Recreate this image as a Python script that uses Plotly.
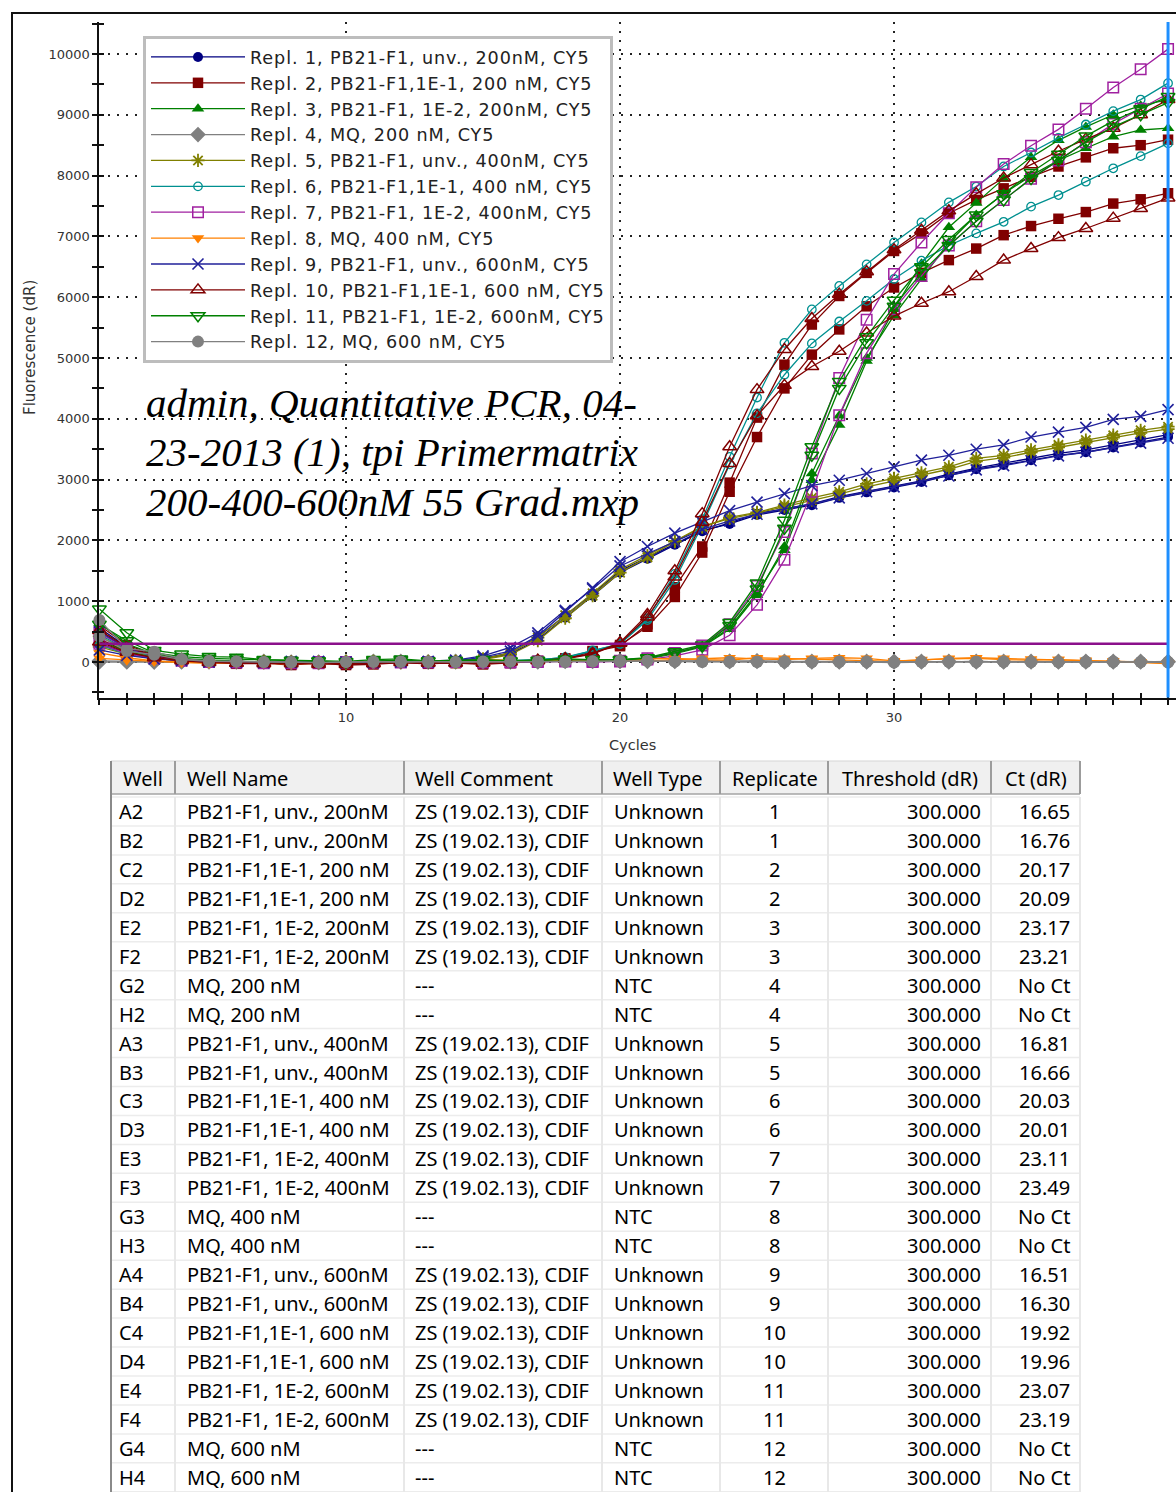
import plotly.graph_objects as go

FIG_W, FIG_H = 1176, 1492

CYCLES = list(range(1, 41))

# Baseline-corrected fluorescence (dR) per well, cycles 1-40
A2 = [560, 250, 110, 40, 20, 10, 0, -10, -20, -10, 0, 10, 0, 10, 60, 150, 410, 760, 1120, 1500,
      1720, 1950, 2160, 2270, 2420, 2500, 2580, 2700, 2790, 2870, 2960, 3070, 3170, 3240, 3320, 3400, 3450, 3530, 3610, 3700]
B2 = [300, 150, 70, 30, 0, -10, 10, 0, -20, 0, 10, 0, -10, 10, 50, 130, 370, 730, 1090, 1470,
      1700, 1930, 2150, 2290, 2440, 2520, 2600, 2720, 2810, 2890, 2980, 3090, 3190, 3270, 3350, 3430, 3490, 3570, 3650, 3740]
C2 = [600, 280, 120, 50, 20, -20, -10, -40, -20, -50, -40, -10, -30, -10, -30, -10, 20, 60, 170, 260,
      620, 1230, 1900, 2950, 4020, 4890, 5550, 6020, 6400, 6760, 7050, 7380, 7600, 7790, 7980, 8150, 8300, 8450, 8500, 8590]
D2 = [380, 170, 80, 30, 0, -30, -20, -50, -10, -40, -30, 0, -20, -20, -40, -20, 10, 50, 180, 280,
      580, 1070, 1800, 2800, 3700, 4500, 5055, 5470, 5850, 6160, 6400, 6610, 6800, 7020, 7170, 7290, 7400, 7540, 7610, 7710]
E2 = [640, 300, 130, 60, 30, 20, 0, 10, 0, -10, 0, 10, 20, 0, 10, 0, 10, 20, 10, 30,
      60, 150, 260, 560, 1135, 1840, 2990, 3900, 4950, 5800, 6550, 7150, 7550, 7950, 8300, 8580, 8800, 9000, 9150, 9250]
F2 = [350, 170, 80, 40, 20, 10, 0, -10, 0, 10, 0, 10, 0, 10, 0, 10, 20, 10, 20, 30,
      50, 140, 250, 540, 1100, 1900, 3100, 4050, 5000, 5700, 6300, 6900, 7350, 7700, 8000, 8250, 8450, 8640, 8750, 8780]
G2 = [0, 0, 0, 10, 0, 10, 0, -10, 0, 0, 10, 0, 0, 10, 0, 10, 0, 10, 20, 10,
      20, 10, 20, 10, 20, 10, 0, 10, 0, 10, 0, 10, 0, 10, 0, 10, 0, 10, 0, 10]
H2 = [20, 10, 0, 0, 10, 0, 10, 0, -10, 0, 0, 10, 0, 0, 10, 0, 10, 20, 10, 20,
      10, 20, 20, 10, 10, 0, 10, 0, 10, 0, 10, 0, 10, 0, 10, 0, 10, 0, 10, 0]
A3 = [420, 200, 90, 30, 10, 0, -10, 0, -10, 10, 0, -10, 0, 10, 40, 120, 350, 720, 1090, 1470,
      1720, 1980, 2220, 2380, 2460, 2580, 2700, 2800, 2930, 3020, 3110, 3210, 3350, 3400, 3490, 3570, 3650, 3730, 3810, 3870]
B3 = [250, 130, 60, 20, 10, 0, 10, -10, 0, -10, 10, 0, 10, 0, 50, 150, 400, 770, 1130, 1520,
      1750, 1990, 2230, 2360, 2450, 2550, 2660, 2760, 2880, 2980, 3070, 3170, 3300, 3360, 3450, 3530, 3610, 3690, 3770, 3830]
C3 = [450, 210, 90, 30, 10, 0, -10, 0, -20, -10, 0, 10, 0, -10, 0, 10, 30, 80, 190, 295,
      720, 1450, 2350, 3375, 4350, 5250, 5800, 6185, 6540, 6900, 7230, 7560, 7820, 8150, 8380, 8620, 8840, 9060, 9250, 9520]
D3 = [280, 130, 60, 20, 0, 10, 0, -10, 0, -10, 10, 0, -10, 0, 10, 20, 40, 70, 180, 298,
      690, 1350, 2250, 3250, 4090, 4725, 5240, 5600, 5940, 6300, 6600, 6850, 7050, 7240, 7490, 7680, 7900, 8120, 8320, 8530]
E3 = [480, 220, 100, 40, 10, 0, -10, -20, 0, -10, 0, -10, 0, 0, -10, 0, 10, 20, 10, 20,
      60, 150, 270, 620, 1250, 2140, 3430, 4670, 5630, 6380, 6900, 7380, 7810, 8190, 8490, 8760, 9100, 9450, 9750, 10080]
F3 = [300, 140, 60, 20, 0, -10, -20, -10, -20, 0, -10, 0, -10, 0, 0, -10, 0, 10, 0, 10,
      40, 100, 200, 440, 940, 1680, 2800, 4060, 5080, 5800, 6350, 6850, 7250, 7600, 7950, 8250, 8550, 8850, 9100, 9350]
G3 = [150, 70, 20, 0, -20, -10, 0, -20, -30, -20, -10, 0, 20, 30, 40, 30, 10, 40, 30, 20,
      50, 60, 40, 30, 70, 60, 50, 40, 20, 10, 40, 50, 60, 40, 30, 40, 20, 10, -10, -20]
H3 = [60, 30, 10, -10, -20, -10, -20, -30, -20, -20, -10, 0, 0, 10, 20, 10, 20, 30, 40, 30,
      20, 40, 60, 70, 50, 40, 60, 70, 60, 20, 30, 60, 70, 60, 50, 40, 30, 20, 0, -30]
A4 = [500, 230, 100, 40, 10, 0, -10, 10, 0, -20, 0, 10, 0, 20, 80, 180, 430, 830, 1220, 1650,
      1900, 2120, 2300, 2490, 2630, 2770, 2900, 2990, 3100, 3210, 3320, 3400, 3500, 3570, 3700, 3780, 3860, 3990, 4040, 4150]
B4 = [200, 110, 50, 20, 0, 10, 0, -10, 10, 0, -10, 0, 10, 30, 100, 240, 480, 850, 1200, 1580,
      1780, 1980, 2180, 2320, 2430, 2520, 2600, 2700, 2800, 2880, 2970, 3060, 3160, 3230, 3310, 3390, 3450, 3530, 3600, 3680]
C4 = [520, 250, 100, 40, 10, -20, -30, -10, -40, -20, -30, 0, -20, -10, -20, 0, 20, 60, 140, 320,
      780, 1500, 2440, 3540, 4480, 5140, 5650, 6050, 6420, 6780, 7100, 7420, 7700, 7960, 8180, 8400, 8600, 8780, 9000, 9250]
D4 = [330, 160, 70, 20, -10, -20, -10, -30, -20, -40, -20, -10, -10, -20, -10, 10, 30, 50, 130, 310,
      740, 1400, 2300, 3265, 4050, 4550, 4860, 5110, 5410, 5690, 5900, 6090, 6340, 6610, 6800, 6980, 7130, 7300, 7460, 7630]
E4 = [870, 480, 190, 130, 90, 80, 40, 30, 20, 10, 40, 50, 20, 30, 40, 20, 30, 50, 40, 40,
      70, 170, 280, 650, 1300, 2330, 3540, 4615, 5350, 5950, 6500, 6950, 7350, 7700, 8050, 8350, 8650, 8900, 9100, 9300]
F4 = [620, 350, 150, 90, 60, 50, 30, 20, 10, 0, 20, 30, 10, 20, 30, 10, 20, 40, 30, 30,
      60, 150, 260, 600, 1200, 2200, 3400, 4500, 5250, 5850, 6400, 6850, 7250, 7600, 7950, 8250, 8550, 8800, 9000, 9200]
G4 = [690, 220, 170, 50, 20, 10, 0, -10, -10, 0, 0, 10, 0, 0, 10, 10, 0, 10, 10, 20,
      20, 10, 10, 0, 0, 10, 0, 10, 0, -10, 0, 10, 10, 0, 0, 0, 0, 10, 0, -10]
H4 = [420, 180, 120, 40, 10, 10, 0, 0, -10, 0, 10, 0, 10, 0, 0, 10, 10, 0, 10, 10,
      20, 10, 0, 10, 10, 0, 0, 0, 10, 0, 10, 0, 0, 10, 0, 0, 10, 0, 0, 0]

# Well table
WELLS = ["A2", "B2", "C2", "D2", "E2", "F2", "G2", "H2",
         "A3", "B3", "C3", "D3", "E3", "F3", "G3", "H3",
         "A4", "B4", "C4", "D4", "E4", "F4", "G4", "H4"]
WELL_NAMES = ["PB21-F1, unv., 200nM", "PB21-F1, unv., 200nM", "PB21-F1,1E-1, 200 nM", "PB21-F1,1E-1, 200 nM",
              "PB21-F1, 1E-2, 200nM", "PB21-F1, 1E-2, 200nM", "MQ, 200 nM", "MQ, 200 nM",
              "PB21-F1, unv., 400nM", "PB21-F1, unv., 400nM", "PB21-F1,1E-1, 400 nM", "PB21-F1,1E-1, 400 nM",
              "PB21-F1, 1E-2, 400nM", "PB21-F1, 1E-2, 400nM", "MQ, 400 nM", "MQ, 400 nM",
              "PB21-F1, unv., 600nM", "PB21-F1, unv., 600nM", "PB21-F1,1E-1, 600 nM", "PB21-F1,1E-1, 600 nM",
              "PB21-F1, 1E-2, 600nM", "PB21-F1, 1E-2, 600nM", "MQ, 600 nM", "MQ, 600 nM"]
WELL_COMMENTS = ["ZS (19.02.13), CDIF", "ZS (19.02.13), CDIF", "ZS (19.02.13), CDIF", "ZS (19.02.13), CDIF",
                 "ZS (19.02.13), CDIF", "ZS (19.02.13), CDIF", "---", "---",
                 "ZS (19.02.13), CDIF", "ZS (19.02.13), CDIF", "ZS (19.02.13), CDIF", "ZS (19.02.13), CDIF",
                 "ZS (19.02.13), CDIF", "ZS (19.02.13), CDIF", "---", "---",
                 "ZS (19.02.13), CDIF", "ZS (19.02.13), CDIF", "ZS (19.02.13), CDIF", "ZS (19.02.13), CDIF",
                 "ZS (19.02.13), CDIF", "ZS (19.02.13), CDIF", "---", "---"]
WELL_TYPES = ["Unknown", "Unknown", "Unknown", "Unknown", "Unknown", "Unknown", "NTC", "NTC",
              "Unknown", "Unknown", "Unknown", "Unknown", "Unknown", "Unknown", "NTC", "NTC",
              "Unknown", "Unknown", "Unknown", "Unknown", "Unknown", "Unknown", "NTC", "NTC"]
REPLICATES = [1, 1, 2, 2, 3, 3, 4, 4, 5, 5, 6, 6, 7, 7, 8, 8, 9, 9, 10, 10, 11, 11, 12, 12]
THRESHOLDS = [300.0, 300.0, 300.0, 300.0, 300.0, 300.0, 300.0, 300.0,
              300.0, 300.0, 300.0, 300.0, 300.0, 300.0, 300.0, 300.0,
              300.0, 300.0, 300.0, 300.0, 300.0, 300.0, 300.0, 300.0]
CT = [16.65, 16.76, 20.17, 20.09, 23.17, 23.21, None, None,
      16.81, 16.66, 20.03, 20.01, 23.11, 23.49, None, None,
      16.51, 16.30, 19.92, 19.96, 23.07, 23.19, None, None]

REPL_LABELS = ["Repl. 1, PB21-F1, unv., 200nM, CY5", "Repl. 2, PB21-F1,1E-1, 200 nM, CY5",
               "Repl. 3, PB21-F1, 1E-2, 200nM, CY5", "Repl. 4, MQ, 200 nM, CY5",
               "Repl. 5, PB21-F1, unv., 400nM, CY5", "Repl. 6, PB21-F1,1E-1, 400 nM, CY5",
               "Repl. 7, PB21-F1, 1E-2, 400nM, CY5", "Repl. 8, MQ, 400 nM, CY5",
               "Repl. 9, PB21-F1, unv., 600nM, CY5", "Repl. 10, PB21-F1,1E-1, 600 nM, CY5",
               "Repl. 11, PB21-F1, 1E-2, 600nM, CY5", "Repl. 12, MQ, 600 nM, CY5"]

RUN_TITLE_LINES = ["admin, Quantitative PCR, 04-", "23-2013 (1), tpi Primermatrix", "200-400-600nM 55 Grad.mxp"]

THRESHOLD = 300
LAST_CYCLE = 40

SERIES = {"A2": A2, "B2": B2, "C2": C2, "D2": D2, "E2": E2, "F2": F2, "G2": G2, "H2": H2,
          "A3": A3, "B3": B3, "C3": C3, "D3": D3, "E3": E3, "F3": F3, "G3": G3, "H3": H3,
          "A4": A4, "B4": B4, "C4": C4, "D4": D4, "E4": E4, "F4": F4, "G4": G4, "H4": H4}

# Replicate styles: (colour, marker symbol, marker size, marker outline width)
STYLES = [
    ("#000080", "circle", 10, 0),
    ("#800000", "square", 10.5, 0),
    ("#008000", "triangle-up", 11, 0),
    ("#808080", "diamond", 12, 0),
    ("#808000", "asterisk-open", 11, 1.8),
    ("#009090", "circle-open", 8.5, 1.3),
    ("#A020A0", "square-open", 10.5, 1.5),
    ("#FF8000", "triangle-down", 11, 0),
    ("#20209A", "x-thin-open", 11, 1.6),
    ("#800000", "triangle-up-open", 12, 1.5),
    ("#008000", "triangle-down-open", 12, 1.5),
    ("#808080", "circle", 12, 0),
]


def px(x):
    return x / FIG_W


def py(y):
    return 1 - y / FIG_H


X_RANGE = [1, 40.29]
Y_RANGE = [-587, 10526]
X_DOMAIN = [px(99.4), 1.0]
Y_DOMAIN = [py(697.7), py(22)]

TICK_FONT = dict(family="DejaVu Sans", size=13, color="#333333")
GRID_DASH = "2px,7px"

fig = go.Figure()

seen = set()
for well, rep in zip(WELLS, REPLICATES):
    color, symbol, size, lw = STYLES[rep - 1]
    first = rep not in seen
    seen.add(rep)
    fig.add_trace(go.Scatter(
        x=CYCLES, y=SERIES[well], mode="lines+markers",
        name='<span style="letter-spacing:0.9px">' + REPL_LABELS[rep - 1] + "</span>",
        legendgroup=f"r{rep}", showlegend=first,
        line=dict(color=color, width=1.3),
        marker=dict(symbol=symbol, size=size, color=color,
                    line=dict(color=color, width=lw)),
        cliponaxis=False,
    ))

# inner half of the crossing tick marks
fig.add_trace(go.Scatter(x=[None], y=[None], xaxis="x2", yaxis="y2",
                         showlegend=False, hoverinfo="skip"))

shapes = [
    # threshold
    dict(type="line", xref="x", yref="y", x0=1, x1=LAST_CYCLE, y0=THRESHOLD, y1=THRESHOLD,
         line=dict(color="#8B108B", width=2.6), layer="above"),
    # last-cycle cursor
    dict(type="line", xref="x", yref="y", x0=LAST_CYCLE, x1=LAST_CYCLE, y0=Y_RANGE[0], y1=Y_RANGE[1],
         line=dict(color="#1E8FFF", width=3), layer="above"),
    # outer frame
    dict(type="line", xref="paper", yref="paper", x0=px(12), x1=px(12), y0=py(12), y1=-0.01,
         line=dict(color="#111111", width=2)),
    dict(type="line", xref="paper", yref="paper", x0=px(11), x1=1.01, y0=py(13), y1=py(13),
         line=dict(color="#111111", width=2)),
]

annotations = [
    dict(text="Cycles", xref="paper", yref="paper", x=px(632), y=py(745),
         xanchor="center", yanchor="middle", showarrow=False,
         font=dict(family="DejaVu Sans", size=14.5, color="#333333")),
    dict(text="Fluorescence (dR)", xref="paper", yref="paper", x=px(30), y=py(348),
         xanchor="center", yanchor="middle", textangle=-90, showarrow=False,
         font=dict(family="DejaVu Sans", size=15, color="#333333")),
]
for line_txt, yc in zip(RUN_TITLE_LINES, [403, 452, 502]):
    annotations.append(dict(text=line_txt, xref="paper", yref="paper", x=px(145), y=py(yc),
                            xanchor="left", yanchor="middle", align="left", showarrow=False,
                            borderpad=0,
                            font=dict(family="Liberation Serif", size=41, style="italic",
                                      color="#000000")))

# ---- well table ----
HEADERS = ["Well", "Well Name", "Well Comment", "Well Type", "Replicate", "Threshold (dR)", "Ct (dR)"]
COL_EDGES = [111, 175, 404, 602, 720, 828, 991, 1080]
BODY_ANCHOR = [("left", 118), ("left", 186), ("left", 414), ("left", 613),
               ("center", 774.5), ("right", 982), ("right", 1071)]
HEAD_ANCHOR = [("center", 143), ("left", 186), ("left", 414), ("left", 612),
               ("center", 774.5), ("center", 910), ("center", 1036)]
HEAD_TOP, HEAD_BOT = 761, 794
ROW_TOP, ROW_H = 797, 28.95
TABLE_FONT = dict(family="Noto Sans", size=20, color="#000000")

shapes.append(dict(type="rect", xref="paper", yref="paper", x0=px(COL_EDGES[0]), x1=px(COL_EDGES[-1]),
                   y0=py(HEAD_BOT), y1=py(HEAD_TOP), fillcolor="#F0F0F0", line=dict(width=0)))
shapes.append(dict(type="line", xref="paper", yref="paper", x0=px(COL_EDGES[0]), x1=px(COL_EDGES[-1]),
                   y0=py(HEAD_TOP), y1=py(HEAD_TOP), line=dict(color="#D5D5D5", width=1)))
shapes.append(dict(type="line", xref="paper", yref="paper", x0=px(COL_EDGES[0]), x1=px(COL_EDGES[-1]),
                   y0=py(HEAD_BOT), y1=py(HEAD_BOT), line=dict(color="#A5A5A5", width=1.5)))
n_rows = len(WELLS)
for k in range(n_rows + 1):
    yk = ROW_TOP + k * ROW_H
    shapes.append(dict(type="line", xref="paper", yref="paper", x0=px(COL_EDGES[0]), x1=px(COL_EDGES[-1]),
                       y0=py(yk), y1=py(yk), line=dict(color="#ECECEC", width=1.5)))
for xe in COL_EDGES[1:]:
    shapes.append(dict(type="line", xref="paper", yref="paper", x0=px(xe), x1=px(xe),
                       y0=py(ROW_TOP), y1=-0.01, line=dict(color="#E8E8E8", width=2)))
    shapes.append(dict(type="line", xref="paper", yref="paper", x0=px(xe), x1=px(xe),
                       y0=py(HEAD_BOT), y1=py(HEAD_TOP), line=dict(color="#9C9C9C", width=2)))
shapes.append(dict(type="line", xref="paper", yref="paper", x0=px(COL_EDGES[0]), x1=px(COL_EDGES[0]),
                   y0=py(HEAD_TOP), y1=-0.01, line=dict(color="#8A8A8A", width=2)))

for (anchor, xa), head in zip(HEAD_ANCHOR, HEADERS):
    annotations.append(dict(text=head, xref="paper", yref="paper", x=px(xa), y=py(778),
                            xanchor=anchor, yanchor="middle", showarrow=False,
                            borderpad=0, font=TABLE_FONT))

for i in range(n_rows):
    ct = CT[i]
    row = [WELLS[i], WELL_NAMES[i], WELL_COMMENTS[i], WELL_TYPES[i], str(REPLICATES[i]),
           f"{THRESHOLDS[i]:.3f}", "No Ct" if ct is None else f"{ct:.2f}"]
    yc = ROW_TOP + (i + 0.5) * ROW_H
    for (anchor, xa), txt in zip(BODY_ANCHOR, row):
        annotations.append(dict(text=txt, xref="paper", yref="paper", x=px(xa), y=py(yc),
                                xanchor=anchor, yanchor="middle", showarrow=False,
                                borderpad=0, font=TABLE_FONT))

tick_common = dict(ticklen=5, tickwidth=1.5, tickcolor="#111111")

fig.update_layout(
    width=FIG_W, height=FIG_H, autosize=False,
    margin=dict(l=0, r=0, t=0, b=0),
    paper_bgcolor="white", plot_bgcolor="white",
    showlegend=True,
    legend=dict(x=px(143), y=py(36), xanchor="left", yanchor="top",
                bgcolor="white", bordercolor="#BDBDBD", borderwidth=3,
                font=dict(family="DejaVu Sans", size=17.6, color="#222222"),
                itemwidth=94, traceorder="normal", tracegroupgap=0, itemsizing="trace"),
    xaxis=dict(domain=X_DOMAIN, range=X_RANGE, tickmode="linear", tick0=0, dtick=10,
               ticks="outside", **tick_common, showline=True, linecolor="#111111", linewidth=2,
               showgrid=True, gridcolor="#222222", gridwidth=1.5, griddash=GRID_DASH,
               zeroline=False, tickfont=TICK_FONT, ticklabelstandoff=2,
               minor=dict(dtick=1, tick0=0, ticks="outside", **tick_common, showgrid=False)),
    yaxis=dict(domain=Y_DOMAIN, range=Y_RANGE, tickmode="linear", tick0=0, dtick=1000, tickformat="d",
               ticks="outside", **tick_common, showline=True, linecolor="#111111", linewidth=2,
               showgrid=True, gridcolor="#222222", gridwidth=1.5, griddash=GRID_DASH,
               zeroline=False, tickfont=TICK_FONT, ticklabelstandoff=0,
               minor=dict(dtick=500, tick0=0, ticks="outside", **tick_common, showgrid=False)),
    xaxis2=dict(overlaying="x", anchor="y", range=X_RANGE, tickmode="linear", tick0=0, dtick=10,
                ticks="inside", **tick_common, showticklabels=False, showgrid=False,
                showline=False, zeroline=False,
                minor=dict(dtick=1, tick0=0, ticks="inside", **tick_common, showgrid=False)),
    yaxis2=dict(overlaying="y", anchor="x", side="left", range=Y_RANGE, tickmode="linear", tick0=0,
                dtick=1000, ticks="inside", **tick_common, showticklabels=False, showgrid=False,
                showline=False, zeroline=False,
                minor=dict(dtick=500, tick0=0, ticks="inside", **tick_common, showgrid=False)),
    shapes=shapes,
    annotations=annotations,
)

fig.write_html("out.html")
